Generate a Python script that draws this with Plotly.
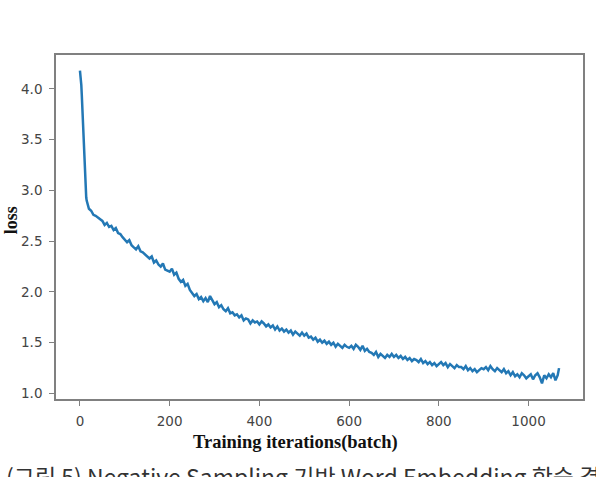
import plotly.graph_objects as go

# ---- data ----
early_iterations = list(range(0, 21))
early_loss = [4.18, 4.15, 4.10, 4.04, 3.95, 3.85, 3.73, 3.61, 3.48, 3.34,
              3.21, 3.10, 3.02, 2.97, 2.93, 2.90, 2.88, 2.86, 2.85, 2.84, 2.82]

late_iterations = list(range(25, 1070, 5)) + [1068]
late_loss = [
    2.80, 2.76, 2.75, 2.73, 2.72,
    2.70, 2.66, 2.68, 2.64, 2.65, 2.61, 2.63, 2.58, 2.57, 2.54,
    2.52, 2.49, 2.51, 2.46, 2.44, 2.42, 2.45, 2.40, 2.39, 2.37,
    2.36, 2.33, 2.35, 2.29, 2.31, 2.27, 2.25, 2.28, 2.22, 2.21,
    2.20, 2.23, 2.17, 2.19, 2.13, 2.10, 2.12, 2.06, 2.08, 2.02,
    1.99, 1.96, 1.98, 1.93, 1.95, 1.91, 1.94, 1.90, 1.96, 1.92,
    1.88, 1.90, 1.85, 1.87, 1.83, 1.81, 1.84, 1.79, 1.80, 1.77,
    1.78, 1.75, 1.77, 1.72, 1.74, 1.73, 1.69, 1.72, 1.70, 1.71,
    1.68, 1.71, 1.69, 1.66, 1.68, 1.65, 1.67, 1.63, 1.66, 1.62,
    1.64, 1.61, 1.63, 1.60, 1.62, 1.58, 1.61, 1.59, 1.57, 1.60,
    1.57, 1.59, 1.55, 1.56, 1.53, 1.55, 1.51, 1.53, 1.50, 1.52,
    1.49, 1.51, 1.48, 1.50, 1.46, 1.49, 1.47, 1.45, 1.48, 1.46,
    1.45, 1.47, 1.44, 1.48, 1.46, 1.43, 1.47, 1.42, 1.44, 1.41,
    1.40, 1.38, 1.41, 1.36, 1.39, 1.37, 1.35, 1.38, 1.36, 1.39,
    1.36, 1.38, 1.35, 1.37, 1.34, 1.36, 1.33, 1.35, 1.32, 1.34,
    1.33, 1.31, 1.34, 1.30, 1.32, 1.29, 1.31, 1.28, 1.30, 1.27,
    1.29, 1.31, 1.28, 1.30, 1.26, 1.29, 1.27, 1.25, 1.28, 1.26,
    1.26, 1.24, 1.27, 1.23, 1.25, 1.22, 1.24, 1.21, 1.23, 1.25,
    1.24, 1.26, 1.23, 1.27, 1.24, 1.22, 1.25, 1.23, 1.21, 1.24,
    1.20, 1.22, 1.18, 1.21, 1.17, 1.19, 1.16, 1.20, 1.18, 1.15,
    1.17, 1.19, 1.14, 1.18, 1.20, 1.16, 1.10, 1.18, 1.15, 1.19,
    1.16, 1.20, 1.13, 1.18,
    1.25,
]

iterations = early_iterations + late_iterations
loss = early_loss + late_loss

x_ticks = [0, 200, 400, 600, 800, 1000]
y_ticks = [1.0, 1.5, 2.0, 2.5, 3.0, 3.5, 4.0]

x_title = "Training iterations(batch)"
y_title = "loss"
caption = "(그림 5) Negative Sampling 기반 Word Embedding 학습 결과"

# matplotlib-like 5% margins
xmin, xmax = min(iterations), max(iterations)
ymin, ymax = min(loss), max(loss)
xpad = 0.05 * (xmax - xmin)
ypad = 0.05 * (ymax - ymin)

fig = go.Figure()
fig.add_trace(go.Scatter(
    x=iterations, y=loss, mode="lines",
    line=dict(color="#2378b5", width=2.5),
    showlegend=False,
))

axis_common = dict(
    showgrid=False, zeroline=False,
    showline=True, linecolor="#808080", linewidth=1.6, mirror=True,
    ticks="outside", ticklen=5, tickwidth=1.2, tickcolor="#808080",
    ticklabelstandoff=4,
    tickfont=dict(family="DejaVu Sans", size=13.5, color="#444444"),
)

fig.update_layout(
    width=596, height=477,
    margin=dict(l=56, r=13, t=55, b=78),
    paper_bgcolor="white", plot_bgcolor="white",
    xaxis=dict(range=[xmin - xpad, xmax + xpad], tickvals=x_ticks, **axis_common),
    yaxis=dict(range=[ymin - ypad, ymax + ypad], tickvals=y_ticks,
               tickformat=".1f", **axis_common),
    annotations=[
        dict(text="<b>" + x_title + "</b>", xref="paper", yref="paper",
             x=0.455, y=-0.125, xanchor="center", yanchor="middle", showarrow=False,
             font=dict(family="Liberation Serif", size=18.5, color="#111111")),
        dict(text="<b>" + y_title + "</b>", xref="paper", yref="paper",
             x=-0.085, y=0.52, xanchor="center", yanchor="middle", showarrow=False,
             textangle=-90,
             font=dict(family="Liberation Serif", size=18, color="#111111")),
        dict(text=caption, xref="paper", yref="paper",
             x=-0.099, y=-0.168, xanchor="left", yanchor="top", showarrow=False,
             font=dict(family="Noto Sans CJK KR", size=23, color="#333333")),
    ],
)

fig.write_html("out.html")
